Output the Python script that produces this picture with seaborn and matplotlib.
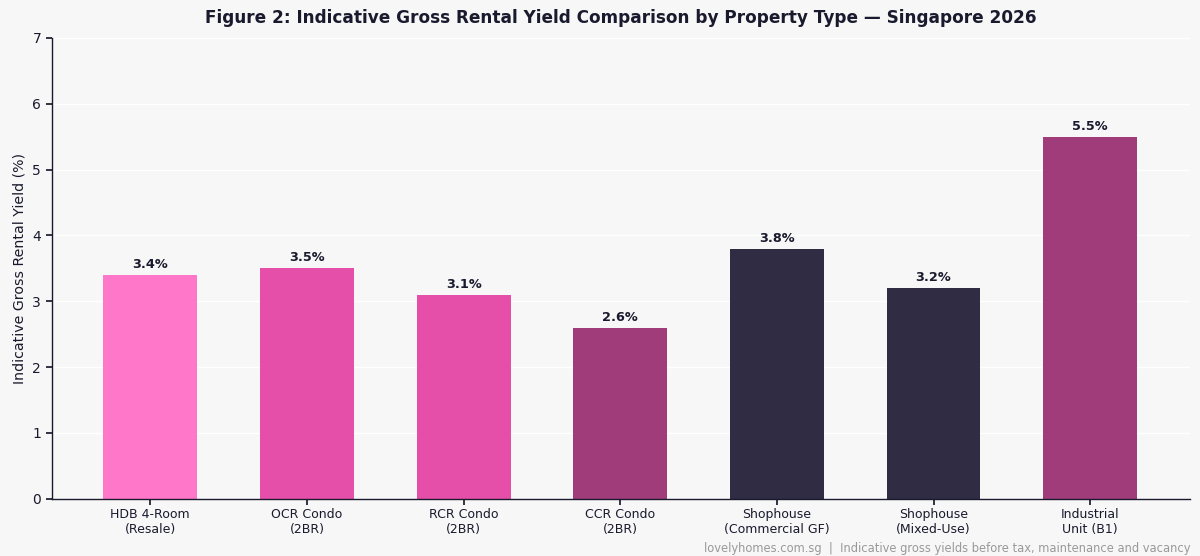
import pandas as pd
import numpy as np
import seaborn as sns
import matplotlib.pyplot as plt

categories = ["HDB 4-Room\n(Resale)", "OCR Condo\n(2BR)", "RCR Condo\n(2BR)", "CCR Condo\n(2BR)",
              "Shophouse\n(Commercial GF)", "Shophouse\n(Mixed-Use)", "Industrial\nUnit (B1)"]
yields = [3.4, 3.5, 3.1, 2.6, 3.8, 3.2, 5.5]
colors = ["#ff77c8", "#e64fa9", "#e64fa9", "#a03c7a", "#2f2c44", "#2f2c44", "#a03c7a"]

df = pd.DataFrame({"type": categories, "yield": yields})

sns.set_theme(style="whitegrid")
plt.rcParams['font.family'] = ['DejaVu Sans']

fig, ax = plt.subplots(figsize=(12, 5.56), dpi=100)
fig.patch.set_facecolor("#f7f7f7")
ax.set_facecolor("#f7f7f7")

sns.barplot(data=df, x="type", y="yield", hue="type", palette=colors, legend=False,
            width=0.6, ax=ax, saturation=1, edgecolor="none")

for i, v in enumerate(yields):
    ax.text(i, v + 0.06, f"{v}%", ha="center", va="bottom", fontsize=9.3,
            fontweight="bold", color="#1a1a2e")

ax.set_ylim(0, 7)
ax.set_xlim(-0.63, 6.64)
ax.set_xlabel("")
ax.set_ylabel("Indicative Gross Rental Yield (%)", fontsize=10.2, color="#1a1a2e")
ax.set_title("Figure 2: Indicative Gross Rental Yield Comparison by Property Type — Singapore 2026",
             fontsize=12.2, fontweight="bold", color="#1a1a2e", pad=11)
ax.grid(axis="x", visible=False)
ax.grid(axis="y", color="white", linewidth=1)
for s in ["top", "right"]:
    ax.spines[s].set_visible(False)
for s in ["left", "bottom"]:
    ax.spines[s].set_color("#1a1a2e")
    ax.spines[s].set_linewidth(1)
ax.tick_params(axis="both", colors="#1a1a2e", labelsize=10, length=4, left=True, bottom=True)
ax.tick_params(axis="x", labelsize=9, pad=3)

fig.text(0.992, 0.002, "lovelyhomes.com.sg  |  Indicative gross yields before tax, maintenance and vacancy",
         ha="right", va="bottom", fontsize=8.3, color="#999999")

plt.subplots_adjust(left=0.043, right=0.992, top=0.932, bottom=0.103)
plt.savefig("out.png", dpi=100, facecolor=fig.get_facecolor())
